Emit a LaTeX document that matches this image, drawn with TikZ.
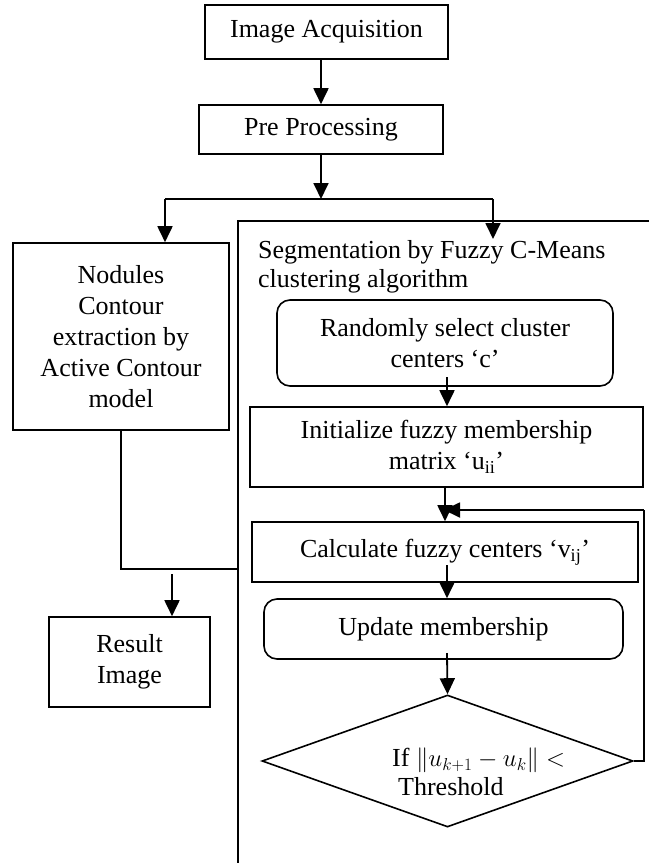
\documentclass[tikz,border=0pt]{standalone}
\usepackage{fontspec}
\setmainfont{Liberation Serif}
\usetikzlibrary{arrows.meta,shapes.geometric}
\begin{document}
\begin{tikzpicture}[x=1pt,y=-1pt,
  box/.style={draw,line width=1.6pt,inner sep=0pt,align=center,font=\fontsize{26}{31}\selectfont},
  rbox/.style={box,rounded corners=13pt},
  arr/.style={line width=1.8pt,-{Triangle[length=16pt,width=15pt]}},
  thinline/.style={line width=1.1pt},
  frameline/.style={line width=1.4pt},
  txt/.style={font=\fontsize{26}{29}\selectfont,inner sep=0pt,align=left}]
\useasboundingbox (0,0) rectangle (649,863);

% main chain
\node[box,minimum width=243pt,minimum height=54pt] (acq) at (326.5,32) {Image Acquisition};
\node[box,minimum width=244pt,minimum height=49pt] (pre) at (321,129.5) {Pre Processing};
\coordinate (split) at (321,199);
\coordinate (bl) at (165,199);
\coordinate (br) at (493,199);
\coordinate (brend) at (493,239);

% outer frame of the segmentation block
\coordinate (fa) at (238,221);
\coordinate (fb) at (649,221);
\coordinate (fc) at (238,863);
\draw[frameline] (fb) -- (fa) -- (fc);

\node[box,minimum width=216pt,minimum height=187pt] (nod) at (121,336.5)
  {Nodules\\Contour\\extraction by\\Active Contour\\model};
\node[box,minimum width=161pt,minimum height=90pt] (res) at (129.5,662) {Result\\Image};

\node[txt,anchor=west] (seg) at (258,267) {Segmentation by Fuzzy C-Means\\clustering algorithm};

\node[rbox,minimum width=336pt,minimum height=86pt] (rand) at (445,343) {Randomly select cluster\\centers ‘c’};
\node[box,minimum width=393pt,minimum height=80pt] (init) at (446.5,447) {Initialize fuzzy membership\\matrix ‘u\textsubscript{ii}’};
\node[box,minimum width=386pt,minimum height=60pt] (calc) at (445,552) {Calculate fuzzy centers ‘v\textsubscript{ij}’};
\node[rbox,minimum width=359pt,minimum height=60pt] (upd) at (443.5,629) {Update membership};
\node[draw,diamond,line width=1.6pt,inner sep=0pt,minimum width=371pt,minimum height=132pt,aspect=2.81] (dec) at (447.5,761) {};
\node[txt,anchor=west] (dect) at (392,772) {If $\|u_{k+1}-u_k\|<$\\\hspace*{6pt}Threshold};

% connectors
\draw[arr] (acq.south -| pre.north) -- (pre.north);
\draw[arr] (pre.south) -- (split);
\draw[line width=1.8pt] (bl) -- (br);
\draw[arr] (bl) -- (bl |- nod.north);
\draw[arr] (br) -- (brend);

\coordinate (rs) at (447,377);
\draw[arr] (rs) -- (rs |- init.north);
\coordinate (is) at (445,487);
\draw[arr] (is) -- (is |- calc.north);
\coordinate (cs) at (447,565);
\draw[arr] (cs) -- (cs |- upd.north);
\coordinate (us) at (447,653);
\draw[arr] (us) -- (dec.north);

% feedback loop
\coordinate (fb1) at (644,761);
\coordinate (fb2) at (644,510);
\coordinate (fb3) at (444,510);
\draw[thinline] (dec.east) -- (fb1) -- (fb2);
\draw[arr] (fb2) -- (fb3);

% contour branch to result
\coordinate (n1) at (121,569);
\coordinate (n2) at (239,569);
\draw[thinline] (nod.south) -- (n1) -- (n2);
\coordinate (ra) at (172,574);
\draw[arr] (ra) -- (ra |- res.north);
\end{tikzpicture}
\end{document}
